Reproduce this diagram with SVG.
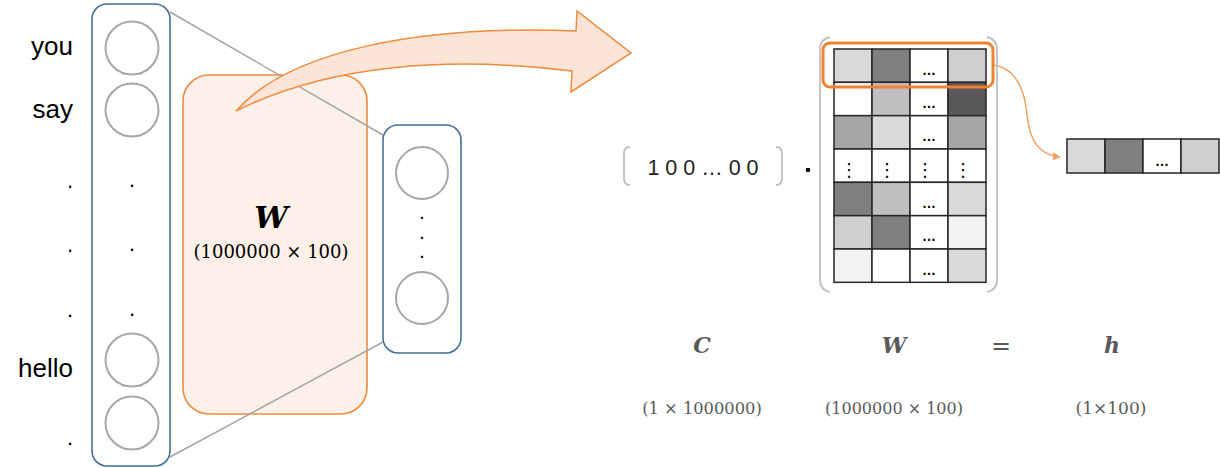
<svg xmlns="http://www.w3.org/2000/svg" width="1220" height="468" viewBox="0 0 1220 468">
<style>
.lbl{font-family:"Liberation Sans",Arial,sans-serif;font-size:26px;fill:#000;text-anchor:end}
.dot{font-family:"Liberation Sans",Arial,sans-serif;font-size:22px;fill:#000;text-anchor:middle}
.sdot{font-family:"Liberation Sans",Arial,sans-serif;font-size:14px;font-weight:bold;fill:#000;text-anchor:middle}
.layer{fill:#fff;stroke:#41719c;stroke-width:1.6}
.neuron{fill:#fff;stroke:#a6a6a6;stroke-width:2}
.gl{stroke:#a6a6a6;stroke-width:1.5;fill:none}
.cell{stroke:#262626;stroke-width:1.5}
.ell{font-family:"Liberation Sans",Arial,sans-serif;font-size:14px;font-weight:bold;fill:#000;text-anchor:middle}
.vd{font-family:"DejaVu Sans",sans-serif;font-size:18px;fill:#000;text-anchor:middle}
.brk{fill:none;stroke:#bfbfbf;stroke-width:1.8}
.math{font-family:"DejaVu Serif","Liberation Serif",serif;text-anchor:middle}
.sym{font-family:"DejaVu Serif","Liberation Serif",serif;font-weight:bold;font-style:italic;text-anchor:middle}
</style>
<defs>
<marker id="ah" viewBox="0 0 10 10" refX="9" refY="5" markerWidth="8" markerHeight="8" orient="auto" markerUnits="userSpaceOnUse">
<path d="M0,0 L10,5 L0,10 Z" fill="#f4a063"/>
</marker>
</defs>

<g id="input-labels">
<text class="lbl" x="73" y="55">you</text>
<text class="lbl" x="73" y="118">say</text>
<text class="dot" x="70" y="188">.</text>
<text class="dot" x="70" y="252">.</text>
<text class="dot" x="70" y="317">.</text>
<text class="lbl" x="73" y="377">hello</text>
<text class="dot" x="70" y="445">.</text>
</g>

<g id="input-layer">
<rect class="layer" x="92" y="4" width="78" height="462" rx="15"/>
<circle class="neuron" cx="132" cy="48" r="26.5"/>
<circle class="neuron" cx="132" cy="110" r="26.5"/>
<text class="dot" x="132" y="187">.</text>
<text class="dot" x="132" y="251">.</text>
<text class="dot" x="132" y="316">.</text>
<circle class="neuron" cx="132" cy="360" r="26.5"/>
<circle class="neuron" cx="132" cy="423" r="26.5"/>
</g>

<g id="weight-W">
<rect x="183" y="75" width="184" height="339" rx="26" fill="#fdf0e8" stroke="#f08a3c" stroke-width="1.6"/>
<text class="sym" x="271" y="228" font-size="30" fill="#000">W</text>
<text class="math" x="271" y="258" font-size="18" fill="#000">(1000000 × 100)</text>
</g>

<g id="hidden-layer">
<rect class="layer" x="383" y="125" width="78" height="228" rx="15"/>
<circle class="neuron" cx="422" cy="173" r="26"/>
<text class="sdot" x="422" y="219">.</text>
<text class="sdot" x="422" y="239">.</text>
<text class="sdot" x="422" y="258">.</text>
<circle class="neuron" cx="422" cy="298" r="26"/>
</g>

<g id="connectors">
<line class="gl" x1="170" y1="12" x2="383" y2="135"/>
<line class="gl" x1="170" y1="457" x2="383" y2="342"/>
<path d="M236,111 C290,50 420,25 576,31 L577,11 L631,53 L571,92 L572,71 C450,56 330,64 236,111 Z" fill="#fce5d6" stroke="#f08a3c" stroke-width="1.5" stroke-linejoin="miter"/>
<path d="M993,65 C1020,68 1026,100 1027,115 C1030,145 1042,155 1060,157" fill="none" stroke="#f4a063" stroke-width="1.5" marker-end="url(#ah)"/>
</g>

<g id="one-hot-vector">
<path class="brk" d="M630,147 Q624,147 624,153 L624,179 Q624,185 630,185"/>
<path class="brk" d="M776,147 Q782,147 782,153 L782,179 Q782,185 776,185"/>
<text x="703" y="175" font-family="Liberation Sans,Arial,sans-serif" font-size="21.5" fill="#222" text-anchor="middle">1 0 0 … 0 0</text>
<circle cx="808" cy="170" r="2.3" fill="#000"/>
</g>

<g id="matrix-W">
<path class="brk" d="M830,37 Q820,39 820,50 L820,280 Q820,290 830,292"/>
<path class="brk" d="M987,37 Q997,39 997,50 L997,280 Q997,290 987,292"/>
<rect class="cell" x="834" y="49" width="38" height="33.33" fill="#d9d9d9"/>
<rect class="cell" x="872" y="49" width="38" height="33.33" fill="#7f7f7f"/>
<rect class="cell" x="910" y="49" width="38" height="33.33" fill="#fff"/>
<rect class="cell" x="948" y="49" width="38" height="33.33" fill="#d0cece"/>
<rect class="cell" x="834" y="82.33" width="38" height="33.33" fill="#fff"/>
<rect class="cell" x="872" y="82.33" width="38" height="33.33" fill="#bfbfbf"/>
<rect class="cell" x="910" y="82.33" width="38" height="33.33" fill="#fff"/>
<rect class="cell" x="948" y="82.33" width="38" height="33.33" fill="#595959"/>
<rect class="cell" x="834" y="115.67" width="38" height="33.33" fill="#a6a6a6"/>
<rect class="cell" x="872" y="115.67" width="38" height="33.33" fill="#d9d9d9"/>
<rect class="cell" x="910" y="115.67" width="38" height="33.33" fill="#fff"/>
<rect class="cell" x="948" y="115.67" width="38" height="33.33" fill="#a6a6a6"/>
<rect class="cell" x="834" y="149" width="38" height="33.33" fill="#fff"/>
<rect class="cell" x="872" y="149" width="38" height="33.33" fill="#fff"/>
<rect class="cell" x="910" y="149" width="38" height="33.33" fill="#fff"/>
<rect class="cell" x="948" y="149" width="38" height="33.33" fill="#fff"/>
<rect class="cell" x="834" y="182.33" width="38" height="33.33" fill="#7f7f7f"/>
<rect class="cell" x="872" y="182.33" width="38" height="33.33" fill="#bfbfbf"/>
<rect class="cell" x="910" y="182.33" width="38" height="33.33" fill="#fff"/>
<rect class="cell" x="948" y="182.33" width="38" height="33.33" fill="#d9d9d9"/>
<rect class="cell" x="834" y="215.67" width="38" height="33.33" fill="#d0cece"/>
<rect class="cell" x="872" y="215.67" width="38" height="33.33" fill="#7f7f7f"/>
<rect class="cell" x="910" y="215.67" width="38" height="33.33" fill="#fff"/>
<rect class="cell" x="948" y="215.67" width="38" height="33.33" fill="#f2f2f2"/>
<rect class="cell" x="834" y="249" width="38" height="33.33" fill="#f2f2f2"/>
<rect class="cell" x="872" y="249" width="38" height="33.33" fill="#fff"/>
<rect class="cell" x="910" y="249" width="38" height="33.33" fill="#fff"/>
<rect class="cell" x="948" y="249" width="38" height="33.33" fill="#d9d9d9"/>
<text class="ell" x="929" y="75">…</text>
<text class="ell" x="929" y="108">…</text>
<text class="ell" x="929" y="141">…</text>
<text class="ell" x="929" y="208">…</text>
<text class="ell" x="929" y="241">…</text>
<text class="ell" x="929" y="275">…</text>
<text class="vd" x="849" y="176">⋮</text>
<text class="vd" x="887" y="176">⋮</text>
<text class="vd" x="925" y="176">⋮</text>
<text class="vd" x="963" y="176">⋮</text>
<rect x="823" y="43" width="170" height="44" rx="7" fill="none" stroke="#f4812d" stroke-width="3"/>
</g>

<g id="output-h">
<rect class="cell" x="1067" y="139" width="38" height="34" fill="#d9d9d9" stroke="#404040"/>
<rect class="cell" x="1105" y="139" width="38" height="34" fill="#7f7f7f" stroke="#404040"/>
<rect class="cell" x="1143" y="139" width="38" height="34" fill="#fff" stroke="#404040"/>
<rect class="cell" x="1181" y="139" width="38" height="34" fill="#d0cece" stroke="#404040"/>
<text class="ell" x="1162" y="166">…</text>
</g>

<g id="formula">
<text class="sym" x="702" y="353" font-size="22" fill="#595959">C</text>
<text class="sym" x="894" y="353" font-size="22" fill="#595959">W</text>
<text class="math" x="1001" y="354" font-size="24" fill="#595959">=</text>
<text class="sym" x="1112" y="353" font-size="22" fill="#595959">h</text>
<text class="math" x="702" y="414" font-size="16.3" fill="#595959">(1 × 1000000)</text>
<text class="math" x="894" y="414" font-size="16" fill="#595959">(1000000 × 100)</text>
<text class="math" x="1111" y="414" font-size="17" fill="#595959">(1×100)</text>
</g>
</svg>
